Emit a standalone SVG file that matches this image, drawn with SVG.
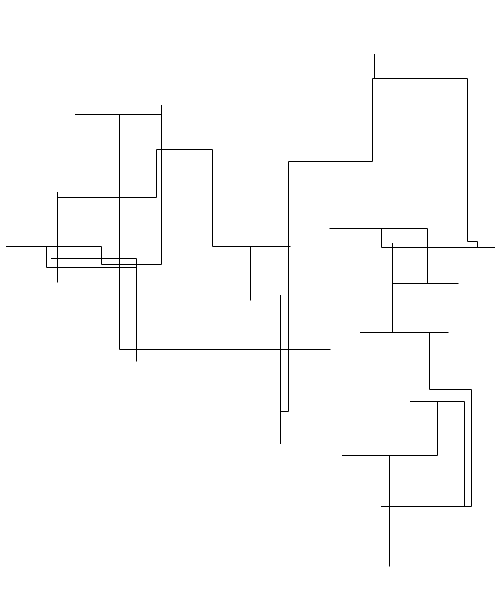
<svg xmlns="http://www.w3.org/2000/svg" width="500" height="600" viewBox="0 0 500 600">
<style>
.w{fill:none;stroke:#000;stroke-width:1;stroke-linecap:butt;stroke-linejoin:miter}
</style>
<rect width="500" height="600" fill="#fff"/>
<g id="connectors" class="w">
<path d="M75 114.5H161.5"/>
<path d="M161.5 105V264.5H101.5V246.5H6"/>
<path d="M119.5 114.5V349.5H330.5"/>
<path d="M57.5 192V282.5"/>
<path d="M57.5 197.5H156.5V149.5H212.5V246.5H290.5"/>
<path d="M46.5 246.5V267.5H136.5"/>
<path d="M51 258.5H136.5V361.5"/>
<path d="M250.5 246.5V300.5"/>
<path d="M280.5 295V444"/>
<path d="M280.5 411.5H288.5V161.5H372.5V78.5H467.5V241.5H477.5V247.5"/>
<path d="M374.5 54V78.5"/>
<path d="M381.5 247.5H495"/>
<path d="M329.5 228.5H427.5V283.5"/>
<path d="M381.5 228.5V247.5"/>
<path d="M392.5 243V332.5"/>
<path d="M392.5 283.5H458.5"/>
<path d="M360 332.5H448.5"/>
<path d="M429.5 332.5V389.5H471.5V506.5H381"/>
<path d="M410 401.5H464.5V506.5"/>
<path d="M437.5 401.5V455.5H342"/>
<path d="M389.5 455.5V566.5"/>
</g>
</svg>
